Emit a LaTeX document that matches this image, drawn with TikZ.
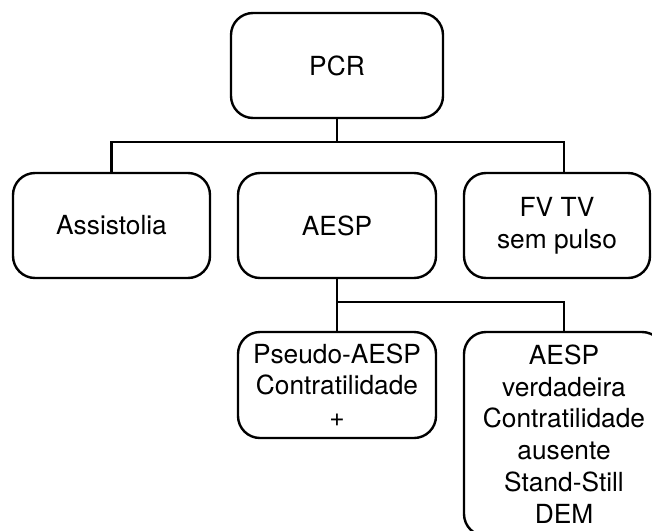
\documentclass[tikz,border=0pt]{standalone}
\usepackage{fontspec}
\setmainfont{TeX Gyre Heros}
\tikzset{
  box/.style={draw, rounded corners=22pt, line width=2.4pt, align=center,
    inner sep=0pt, font=\fontsize{26.3}{31.7}\selectfont},
  link/.style={line width=2.4pt}
}
\begin{document}
\begin{tikzpicture}[x=1pt,y=-1pt]
  % --- page frame: same size as the figure, the last box runs off its edge
  \clip (0,0) rectangle (652,530);
  % --- top node and the three rhythms below it
  \node[box, minimum width=212pt, minimum height=105pt] (pcr) at (337,65.5) {PCR};
  \node[box, minimum width=197pt, minimum height=105pt] (asys) at (111.5,225.5) {Assistolia};
  \node[box, minimum width=198pt, minimum height=105pt] (aesp) at (337,225.5) {AESP};
  \node[box, minimum width=186pt, minimum height=105pt] (fvtv) at (557,225.5) {FV TV\\sem pulso};
  % --- the two kinds of AESP
  \node[box, minimum width=198pt, minimum height=106pt] (pseudo) at (337,385) {Pseudo-AESP\\Contratilidade\\+};
  \node[box, minimum width=200pt, minimum height=204pt] (verd) at (564,434)
    {AESP\\verdadeira\\Contratilidade\\ausente\\Stand-Still\\DEM};
  % --- connectors: a bus under PCR, another under AESP
  \coordinate (bus1) at (337,142);
  \coordinate (bus2) at (337,302);
  \draw[link] (pcr.south) -- (bus1);
  \draw[link] (asys.north) |- (bus1) -| ([xshift=7pt]fvtv.north);
  \draw[link] (aesp.south) -- (pseudo.north);
  \draw[link] (bus2) -| (verd.north);
\end{tikzpicture}
\end{document}
